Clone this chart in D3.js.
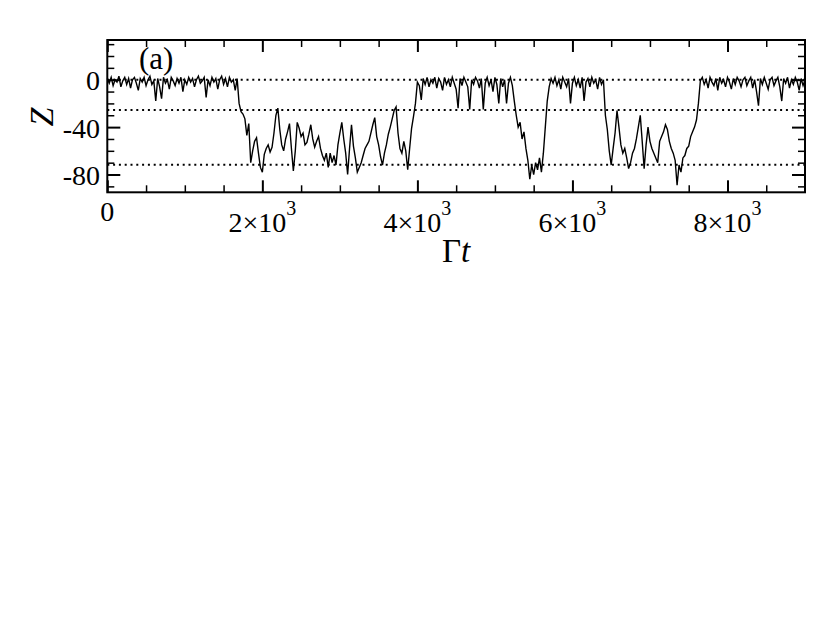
<!DOCTYPE html>
<html>
<head>
<meta charset="utf-8">
<script src="https://cdn.jsdelivr.net/npm/d3@7"></script>
<style>
body { margin: 0; background: #fff; }
text { font-family: "Liberation Serif", "Times New Roman", serif; fill: #000; }
</style>
</head>
<body>
<svg id="chart" width="830" height="642"></svg>
<script>
var dt = 25;
var zValues = [
    1, -3, 2, -5, 0, -2, 3, -6, -1, 2,
    -4, 1, -7, 0, 2, -3, -9, 1, -2, 2,
    -5, 0, 3, -4, -1, -18, 1, -6, -16, 2,
    -3, 0, -8, 2, -1, -5, 1, -3, 2, -10,
    0, -4, 2, -2, 1, -6, 0, 3, -3, -1,
    2, -15, 0, -5, 2, -2, 1, -8, 0, 3,
    -4, 1, -6, 2, -2, 0, -9, 1, -20, -27,
    -29, -33, -47, -37, -70, -60, -52, -49, -62, -74,
    -78, -63, -58, -55, -61, -57, -45, -30, -24, -42,
    -55, -60, -50, -44, -37, -58, -77, -60, -36, -41,
    -48, -45, -55, -53, -46, -38, -50, -57, -52, -48,
    -58, -64, -68, -62, -74, -62, -70, -64, -72, -55,
    -45, -36, -50, -62, -80, -58, -38, -56, -66, -78,
    -74, -70, -64, -58, -55, -52, -45, -38, -32, -48,
    -55, -65, -72, -62, -55, -46, -40, -33, -26, -23,
    -45, -58, -62, -52, -60, -76, -58, -41, -31, -20,
    -2, -5, -17, 1, -4, 2, -6, 0, -3, 2,
    -7, 1, -2, -9, 2, -4, 0, -6, 2, -3,
    -8, -24, 1, -5, 2, -2, -6, -25, 0, -4,
    2, -1, -7, 1, -25, -3, 2, -5, 0, -10,
    2, -4, -20, 1, -6, 0, -20, -3, 2, -5,
    -18, -30, -40, -36, -50, -44, -58, -68, -84, -72,
    -80, -70, -76, -66, -78, -62, -40, -18, -6, 1,
    -3, 2, -5, 0, -8, 2, -2, -6, 1, -20,
    -3, 2, -5, 0, -7, 2, -18, -2, 1, -6,
    2, -3, 0, -8, 2, -4, 0, -30, -42, -60,
    -72, -58, -45, -26, -40, -55, -62, -58, -66, -75,
    -70, -62, -58, -50, -40, -30, -52, -75, -55, -40,
    -52, -58, -62, -66, -70, -52, -48, -44, -38, -42,
    -52, -58, -62, -68, -89, -72, -78, -66, -64, -58,
    -56, -48, -44, -40, -34, -20, -1, 2, -4, 0,
    -7, 2, -2, -5, 1, -9, 2, -3, 0, -6,
    2, -2, -8, 1, -4, 2, -1, -6, 0, 2,
    -5, -1, 2, -7, 0, -10, -22, 1, -4, 2,
    -3, -8, 0, 2, -5, -1, 2, -6, -18, 1,
    -3, 2, -7, 0, -4, 2, -2, -9, 1, -5,
    0
];
var refLevels = [0, -25.6, -71.8];

var xMajor = [0, 2000, 4000, 6000, 8000];
var xMinor = [500, 1000, 1500, 2500, 3000, 3500, 4500, 5000, 5500, 6500, 7000, 7500, 8500];
var xTickText = ["0", "2\u00d710", "4\u00d710", "6\u00d710", "8\u00d710"];
var xTickSup = ["", "3", "3", "3", "3"];
var yMajor = [-80, -40, 0];
var yMinor = [-90, -70, -60, -50, -30, -20, -10, 10, 20, 30];
var yTickText = ["-80", "-40", "0"];

// plot box (note: "top" is taken by window.top)
var pLeft = 107.3, pRight = 805, pTop = 40, pBottom = 192.3;
var svg = d3.select('#chart');
svg.append('rect').attr('width', 830).attr('height', 642).attr('fill', '#fff');

var x = d3.scaleLinear().domain([0, 9000]).range([pLeft, pRight]);
var y = d3.scaleLinear().domain([-95, 33.5]).range([pBottom, pTop]);

// dotted reference lines
svg.append('g')
    .selectAll('line')
    .data(refLevels)
    .enter()
    .append('line')
    .attr('x1', pLeft)
    .attr('x2', pRight)
    .attr('y1', (d) => y(d))
    .attr('y2', (d) => y(d))
    .attr('stroke', '#000')
    .attr('stroke-width', 2)
    .attr('stroke-dasharray', '2,3.8');

// the trace
var line = d3.line()
    .x((d, i) => x(i * dt))
    .y((d) => y(d));
svg.append('path')
    .attr('d', line(zValues))
    .attr('fill', 'none')
    .attr('stroke', '#000')
    .attr('stroke-width', 1.4)
    .attr('stroke-linejoin', 'miter');

// inward ticks on all four sides
function ticks(axis, tr, vals, len, w) {
    let g = svg.append('g')
        .attr('transform', tr)
        .call(axis.tickValues(vals).tickSizeInner(-len).tickSizeOuter(0).tickFormat(''));
    g.select('.domain').remove();
    g.selectAll('line').attr('stroke-width', w);
}
ticks(d3.axisBottom(x), 'translate(0,' + pBottom + ')', xMajor, 12, 2);
ticks(d3.axisBottom(x), 'translate(0,' + pBottom + ')', xMinor, 7, 1.5);
ticks(d3.axisTop(x), 'translate(0,' + pTop + ')', xMajor, 12, 2);
ticks(d3.axisTop(x), 'translate(0,' + pTop + ')', xMinor, 7, 1.5);
ticks(d3.axisLeft(y), 'translate(' + pLeft + ',0)', yMajor, 13, 2);
ticks(d3.axisLeft(y), 'translate(' + pLeft + ',0)', yMinor, 7, 1.5);
ticks(d3.axisRight(y), 'translate(' + pRight + ',0)', yMajor, 13, 2);
ticks(d3.axisRight(y), 'translate(' + pRight + ',0)', yMinor, 7, 1.5);

// frame
svg.append('rect')
    .attr('x', pLeft)
    .attr('y', pTop)
    .attr('width', pRight - pLeft)
    .attr('height', pBottom - pTop)
    .attr('fill', 'none')
    .attr('stroke', '#000')
    .attr('stroke-width', 2);

// x tick labels
xMajor.forEach((v, i) => {
    let t = svg.append('text')
        .attr('x', x(v))
        .attr('y', xTickSup[i] ? 231.7 : 220.7)
        .attr('text-anchor', 'middle')
        .style('font-size', '28px');
    t.append('tspan').text(xTickText[i]);
    if (xTickSup[i]) {
        t.append('tspan')
            .attr('dy', -17)
            .style('font-size', '20px')
            .text(xTickSup[i]);
    }
});

// y tick labels
yMajor.forEach((v, i) => {
    svg.append('text')
        .attr('x', 100)
        .attr('y', y(v) + 10.5)
        .attr('text-anchor', 'end')
        .style('font-size', '28px')
        .text(yTickText[i]);
});

// axis titles
var xt = svg.append('text')
    .attr('x', (pLeft + pRight) / 2)
    .attr('y', 261.7)
    .attr('text-anchor', 'middle')
    .style('font-size', '33px');
xt.append('tspan').text('\u0393');
xt.append('tspan').style('font-style', 'italic').text('t');

svg.append('text')
    .attr('transform', 'translate(53,117) rotate(-90)')
    .attr('text-anchor', 'middle')
    .style('font-size', '34px')
    .style('font-style', 'italic')
    .text('Z');

svg.append('text')
    .attr('x', 139)
    .attr('y', 69)
    .style('font-size', '31px')
    .text('(a)');
</script>
</body>
</html>
